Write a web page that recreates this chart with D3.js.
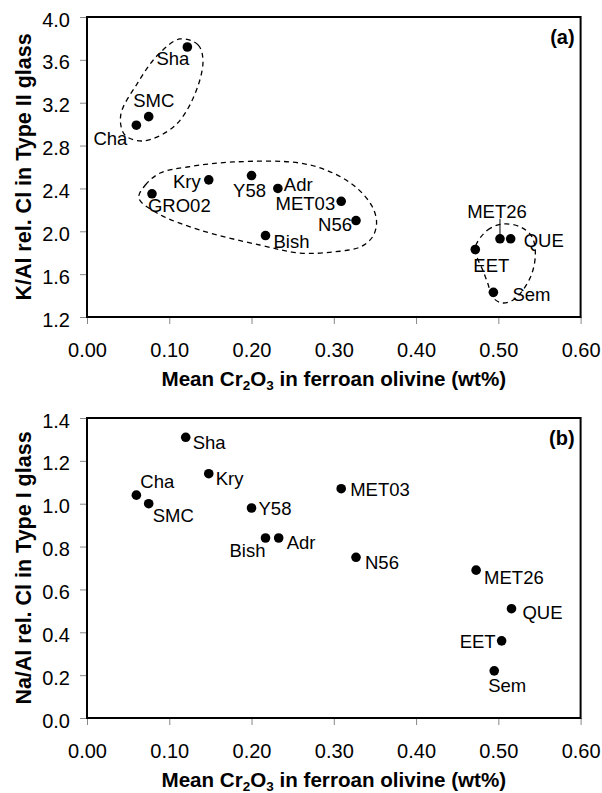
<!DOCTYPE html>
<html>
<head>
<meta charset="utf-8">
<script src="https://cdn.jsdelivr.net/npm/d3@7"></script>
<style>
  body { margin: 0; background: #fff; }
  text { font-family: "Liberation Sans", Arial, sans-serif; fill: #000; }
</style>
</head>
<body>
<div id="chart"></div>
<script>
// panel (a): K/Al rel. Cl in Type II glass
const namesA = ["Sha", "SMC", "Cha", "GRO02", "Kry", "Y58", "Adr", "Bish", "MET03", "N56", "MET26", "QUE", "EET", "Sem"]
const crA = [0.122, 0.075, 0.060, 0.079, 0.148, 0.200, 0.232, 0.217, 0.309, 0.327, 0.502, 0.515, 0.472, 0.494]
const kalA = [3.72, 3.07, 2.99, 2.35, 2.48, 2.52, 2.40, 1.96, 2.28, 2.10, 1.93, 1.93, 1.83, 1.43]

// panel (b): Na/Al rel. Cl in Type I glass
const namesB = ["Sha", "Kry", "Cha", "SMC", "Y58", "Bish", "Adr", "MET03", "N56", "MET26", "QUE", "EET", "Sem"]
const crB = [0.120, 0.148, 0.060, 0.075, 0.200, 0.217, 0.233, 0.309, 0.327, 0.473, 0.516, 0.504, 0.495]
const naalB = [1.31, 1.14, 1.04, 1.00, 0.98, 0.84, 0.84, 1.07, 0.75, 0.69, 0.51, 0.36, 0.22]

// dashed group outlines in panel (a), data units
const groupHigh = [[0.113, 3.795], [0.135, 3.74], [0.141, 3.58], [0.128, 3.225], [0.105, 2.973], [0.068, 2.843],
  [0.046, 2.90], [0.041, 3.085], [0.062, 3.39], [0.086, 3.645]]
const groupMid = [[0.063, 2.311], [0.071, 2.432], [0.089, 2.544], [0.122, 2.60], [0.178, 2.647], [0.259, 2.637],
  [0.299, 2.544], [0.328, 2.404], [0.347, 2.227], [0.352, 2.077], [0.347, 1.947], [0.332, 1.853], [0.299, 1.807],
  [0.259, 1.797], [0.210, 1.872], [0.137, 2.012], [0.085, 2.171]]
const groupLow = [[0.472, 1.853], [0.487, 2.012], [0.506, 2.068], [0.527, 2.04], [0.541, 1.947], [0.545, 1.797],
  [0.541, 1.611], [0.530, 1.452], [0.518, 1.359], [0.505, 1.331], [0.494, 1.377], [0.487, 1.517], [0.481, 1.639],
  [0.474, 1.76]]

const xTicks = [0, 0.1, 0.2, 0.3, 0.4, 0.5, 0.6]
const yTicksA = [1.2, 1.6, 2.0, 2.4, 2.8, 3.2, 3.6, 4.0]
const yTicksB = [0, 0.2, 0.4, 0.6, 0.8, 1.0, 1.2, 1.4]

// label placement relative to each dot: [dx, dy, anchor]
const labelPosA = {
  Sha: [2, 18, "end"], SMC: [5, -10, "middle"], Cha: [-9, 20, "end"], GRO02: [-4, 18, "start"],
  Kry: [-8, 8, "end"], Y58: [-2, 21, "middle"], Adr: [6, 3, "start"], Bish: [8, 12, "start"],
  MET03: [-6, 9, "end"], N56: [-4, 10, "end"], MET26: [-3, -21, "middle"], QUE: [13, 8, "start"],
  EET: [-2, 22, "start"], Sem: [19, 9, "start"]
}
const labelPosB = {
  Sha: [7, 12, "start"], Kry: [7, 11, "start"], Cha: [4, -7, "start"], SMC: [4, 18, "start"],
  Y58: [7, 7, "start"], Bish: [0, 19, "end"], Adr: [8, 11, "start"], MET03: [9, 7, "start"],
  N56: [9, 12, "start"], MET26: [8, 14, "start"], QUE: [11, 10, "start"], EET: [-6, 7, "end"],
  Sem: [-6, 21, "start"]
}

const W = 602, H = 793
const left = 87, right = 580.6

let svg = d3.select("#chart").append("svg")
  .attr("width", W)
  .attr("height", H)

let x = d3.scaleLinear().domain([0, 0.6]).range([left, right])

let drawPanel = function(opt) {
  let y = d3.scaleLinear().domain(opt.yDomain).range([opt.bottom, opt.top])
  let g = svg.append("g")

  // axes with grey outward ticks
  let xAxis = g.append("g")
    .attr("transform", `translate(0,${opt.bottom})`)
    .call(d3.axisBottom(x).tickValues(xTicks).tickFormat(d3.format(".2f")).tickSize(7).tickPadding(19))
  let yAxis = g.append("g")
    .attr("transform", `translate(${left},0)`)
    .call(d3.axisLeft(y).tickValues(opt.yTicks).tickFormat(d3.format(".1f")).tickSize(7).tickPadding(10))
  ;[xAxis, yAxis].forEach(a => {
    a.select(".domain").remove()
    a.selectAll(".tick line").attr("stroke", "#888").attr("stroke-width", 1)
    a.selectAll(".tick text").style("font-size", "20px").attr("fill", "#000")
  })
  yAxis.selectAll(".tick text").attr("dy", "0.45em")

  // frame
  g.append("rect")
    .attr("x", left).attr("y", opt.top)
    .attr("width", right - left).attr("height", opt.bottom - opt.top)
    .attr("fill", "none").attr("stroke", "#000").attr("stroke-width", 2)

  // dashed group outlines
  let outline = d3.line()
    .x(d => x(d[0])).y(d => y(d[1]))
    .curve(d3.curveCatmullRomClosed.alpha(0.5))
  g.selectAll("path.group")
    .data(opt.groups || [])
    .enter().append("path")
    .attr("class", "group")
    .attr("d", outline)
    .attr("fill", "none").attr("stroke", "#000")
    .attr("stroke-width", 1.3).attr("stroke-dasharray", "5,4")

  let pts = opt.names.map((n, i) => ({ name: n, cr: opt.xs[i], v: opt.ys[i] }))

  // leader lines
  pts.filter(d => opt.leaders && opt.leaders.includes(d.name)).forEach(d => {
    g.append("line")
      .attr("x1", x(d.cr)).attr("x2", x(d.cr))
      .attr("y1", y(d.v) - 20).attr("y2", y(d.v) - 4)
      .attr("stroke", "#000").attr("stroke-width", 1)
  })

  g.selectAll("circle.pt")
    .data(pts)
    .enter().append("circle")
    .attr("class", "pt")
    .attr("cx", d => x(d.cr))
    .attr("cy", d => y(d.v))
    .attr("r", 4.8)
    .attr("fill", "#000")

  g.selectAll("text.lbl")
    .data(pts)
    .enter().append("text")
    .attr("class", "lbl")
    .attr("x", d => x(d.cr) + opt.labelPos[d.name][0])
    .attr("y", d => y(d.v) + opt.labelPos[d.name][1])
    .attr("text-anchor", d => opt.labelPos[d.name][2])
    .style("font-size", "18.5px")
    .text(d => d.name)

  // panel tag
  g.append("text")
    .attr("x", right - 6).attr("y", opt.top + 27)
    .attr("text-anchor", "end")
    .style("font-size", "20px").style("font-weight", "bold")
    .text(opt.tag)

  // x title with subscripts
  let xt = g.append("text")
    .attr("x", (left + right) / 2).attr("y", opt.bottom + 69)
    .attr("text-anchor", "middle")
    .style("font-size", "20.6px").style("font-weight", "bold")
  xt.append("tspan").text("Mean Cr")
  xt.append("tspan").attr("dy", 4).style("font-size", "13.5px").text("2")
  xt.append("tspan").attr("dy", -4).text("O")
  xt.append("tspan").attr("dy", 4).style("font-size", "13.5px").text("3")
  xt.append("tspan").attr("dy", -4).text(" in ferroan olivine (wt%)")

  // y title
  g.append("text")
    .attr("transform", `translate(31,${(opt.top + opt.bottom) / 2}) rotate(-90)`)
    .attr("text-anchor", "middle")
    .style("font-size", "21.5px").style("font-weight", "bold")
    .text(opt.yLabel)
}

drawPanel({
  top: 17, bottom: 317, yDomain: [1.2, 4.0], yTicks: yTicksA,
  names: namesA, xs: crA, ys: kalA, labelPos: labelPosA,
  groups: [groupHigh, groupMid, groupLow], leaders: ["MET26"],
  tag: "(a)", yLabel: "K/Al rel. Cl in Type II glass"
})

drawPanel({
  top: 418, bottom: 718, yDomain: [0, 1.4], yTicks: yTicksB,
  names: namesB, xs: crB, ys: naalB, labelPos: labelPosB,
  tag: "(b)", yLabel: "Na/Al rel. Cl in Type I glass"
})
</script>
</body>
</html>
